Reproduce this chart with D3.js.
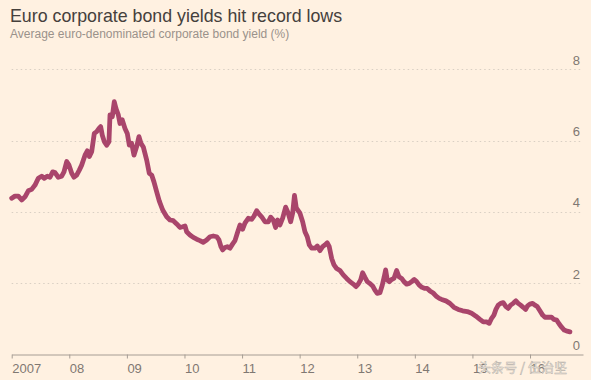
<!DOCTYPE html>
<html>
<head>
<meta charset="utf-8">
<script src="https://cdn.jsdelivr.net/npm/d3@7/dist/d3.min.js"></script>
<style>
  html, body { margin: 0; padding: 0; background: #fff1e1; }
  svg { display: block; }
</style>
</head>
<body>
<svg id="chart" width="591" height="380"></svg>
<script>
// ---- data (decimal year, yield %) ----
const years = [
  2007.000,2007.057,2007.115,2007.174,2007.231,2007.288,2007.347,2007.405,2007.462,2007.521,
  2007.566,2007.618,2007.665,2007.712,2007.752,2007.809,2007.868,2007.908,2007.955,2007.995,
  2008.042,2008.082,2008.128,2008.174,2008.215,2008.273,2008.313,2008.347,2008.389,2008.434,
  2008.476,2008.516,2008.545,2008.573,2008.608,2008.649,2008.689,2008.707,2008.747,2008.781,
  2008.811,2008.851,2008.880,2008.920,2008.967,2009.007,2009.042,2009.083,2009.123,2009.170,
  2009.210,2009.245,2009.285,2009.344,2009.389,2009.431,2009.470,2009.514,2009.563,2009.622,
  2009.691,2009.748,2009.806,2009.865,2009.922,2009.969,2010.009,2010.038,2010.095,2010.153,
  2010.212,2010.269,2010.326,2010.385,2010.443,2010.500,2010.559,2010.599,2010.634,2010.663,
  2010.703,2010.743,2010.790,2010.837,2010.877,2010.917,2010.964,2011.010,2011.050,2011.108,
  2011.167,2011.207,2011.253,2011.293,2011.340,2011.398,2011.455,2011.497,2011.542,2011.583,
  2011.618,2011.658,2011.705,2011.757,2011.802,2011.844,2011.878,2011.910,2011.941,2012.005,
  2012.052,2012.092,2012.132,2012.167,2012.208,2012.266,2012.306,2012.352,2012.399,2012.439,
  2012.479,2012.514,2012.556,2012.596,2012.642,2012.700,2012.757,2012.816,2012.873,2012.931,
  2012.977,2013.017,2013.059,2013.094,2013.134,2013.174,2013.220,2013.267,2013.307,2013.347,
  2013.394,2013.434,2013.469,2013.493,2013.521,2013.556,2013.597,2013.637,2013.684,2013.724,
  2013.771,2013.811,2013.858,2013.903,2013.944,2013.990,2014.031,2014.076,2014.123,2014.175,
  2014.215,2014.262,2014.319,2014.378,2014.424,2014.465,2014.540,2014.609,2014.679,2014.753,
  2014.830,2014.910,2014.986,2015.061,2015.130,2015.188,2015.247,2015.292,2015.333,2015.373,
  2015.408,2015.448,2015.490,2015.535,2015.582,2015.622,2015.663,2015.708,2015.755,2015.795,
  2015.837,2015.882,2015.924,2015.958,2015.998,2016.045,2016.085,2016.125,2016.172,2016.219,
  2016.259,2016.316,2016.375,2016.415,2016.462,2016.507,2016.549,2016.594,2016.646,2016.693
];
const yields = [
  4.38,4.44,4.44,4.33,4.42,4.59,4.63,4.75,4.94,5.00,
  4.94,5.00,4.97,5.12,5.10,4.97,5.00,5.12,5.41,5.31,
  5.08,4.97,5.03,5.17,5.31,5.59,5.71,5.55,5.69,6.20,
  6.25,6.34,6.39,6.15,5.97,5.87,5.97,6.72,6.67,7.09,
  6.90,6.72,6.48,6.58,6.34,6.20,5.87,5.92,5.59,5.83,
  6.11,5.92,5.82,5.45,5.08,5.03,4.84,4.58,4.30,4.05,
  3.86,3.77,3.75,3.66,3.56,3.58,3.60,3.44,3.35,3.28,
  3.23,3.19,3.14,3.21,3.30,3.32,3.30,3.21,3.02,2.93,
  3.00,3.02,2.98,3.10,3.19,3.40,3.63,3.51,3.68,3.82,
  3.79,3.88,4.03,3.94,3.86,3.72,3.72,3.85,3.77,3.56,
  3.77,3.63,3.82,4.13,3.96,3.72,3.96,4.46,4.11,3.96,
  3.72,3.44,3.30,3.07,2.98,2.98,3.04,2.91,3.02,3.07,
  3.13,3.02,2.69,2.51,2.41,2.35,2.23,2.13,2.04,1.97,
  1.90,1.97,2.09,2.29,2.16,2.04,1.99,1.92,1.80,1.71,
  1.73,1.94,2.18,2.37,2.09,2.04,2.10,2.13,2.35,2.18,
  2.13,2.04,1.97,1.99,2.04,2.10,2.04,1.94,1.88,1.85,
  1.85,1.78,1.72,1.62,1.57,1.54,1.50,1.43,1.32,1.26,
  1.22,1.20,1.15,1.07,0.98,0.91,0.91,0.87,1.01,1.10,
  1.26,1.38,1.43,1.45,1.34,1.29,1.38,1.43,1.50,1.43,
  1.38,1.32,1.26,1.36,1.41,1.43,1.38,1.34,1.22,1.10,
  1.04,1.04,1.04,0.98,0.96,0.85,0.76,0.68,0.65,0.63
];
const xTickValues = [2007,2008,2009,2010,2011,2012,2013,2014,2015,2016];
const xTickLabels = ["2007","08","09","10","11","12","13","14","15","16"];
const yTickValues = [0,2,4,6,8];

const title = "Euro corporate bond yields hit record lows";
const subtitle = "Average euro-denominated corporate bond yield (%)";
const watermark = "头条号 / 伍治坚";

// ---- layout ----
const svg = d3.select("#chart");
const W = 591, H = 380;
svg.append("rect").attr("width", W).attr("height", H).attr("fill", "#fff1e1");

const x = d3.scaleLinear().domain([2007, 2016.92]).range([11.7, 583]);
const y = d3.scaleLinear().domain([0, 8]).range([354.3, 69.3]);

const fontUI = "'Liberation Sans', 'Open Sans', Arial, sans-serif";

svg.append("text")
  .attr("x", 10).attr("y", 22)
  .attr("font-family", fontUI)
  .attr("font-size", 17.8)
  .attr("fill", "#45403c")
  .text(title);

svg.append("text")
  .attr("x", 10).attr("y", 38)
  .attr("font-family", fontUI)
  .attr("font-size", 12)
  .attr("fill", "#9a928b")
  .text(subtitle);

// gridlines
const grid = svg.append("g");
grid.selectAll("line")
  .data(yTickValues.filter(v => v > 0))
  .join("line")
  .attr("x1", x.range()[0]).attr("x2", x.range()[1])
  .attr("y1", d => Math.round(y(d)) + 0.5).attr("y2", d => Math.round(y(d)) + 0.5)
  .attr("stroke", "#d9cfc3")
  .attr("stroke-width", 1)
  .attr("stroke-dasharray", "1.5,3");

// y labels (right side, above gridlines)
svg.append("g").selectAll("text")
  .data(yTickValues)
  .join("text")
  .attr("x", 580)
  .attr("y", d => y(d) - 4.5)
  .attr("text-anchor", "end")
  .attr("font-family", fontUI)
  .attr("font-size", 13)
  .attr("fill", "#7f7872")
  .text(d => d);

// x axis
const xAxis = d3.axisBottom(x)
  .tickValues(xTickValues)
  .tickFormat((d, i) => xTickLabels[i])
  .tickSizeInner(4)
  .tickSizeOuter(0);

const gx = svg.append("g")
  .attr("transform", `translate(0,${Math.round(y(0)) + 0.5})`)
  .call(xAxis);
gx.select(".domain").attr("stroke", "#a69d94");
gx.selectAll(".tick line").attr("stroke", "#a69d94");
gx.selectAll(".tick text")
  .attr("text-anchor", "start")
  .attr("x", 0)
  .attr("dy", 0)
  .attr("y", 18.5)
  .attr("font-family", fontUI)
  .attr("font-size", 13)
  .attr("fill", "#7f7872");

// line
const data = years.map((yr, i) => ({ yr, v: yields[i] }));
const line = d3.line().x(d => x(d.yr)).y(d => y(d.v));
svg.append("path")
  .datum(data)
  .attr("d", line)
  .attr("fill", "none")
  .attr("stroke", "#a9456b")
  .attr("stroke-width", 4.8)
  .attr("stroke-linejoin", "round")
  .attr("stroke-linecap", "round");

// watermark (overlaid on the reference image)
svg.append("text")
  .attr("x", 478).attr("y", 372)
  .attr("font-family", "'Noto Sans CJK SC', sans-serif")
  .attr("font-size", 13)
  .attr("fill", "#f7f2ec")
  .attr("stroke", "#b9b1a9")
  .attr("stroke-width", 0.5)
  .text(watermark);
</script>
</body>
</html>
